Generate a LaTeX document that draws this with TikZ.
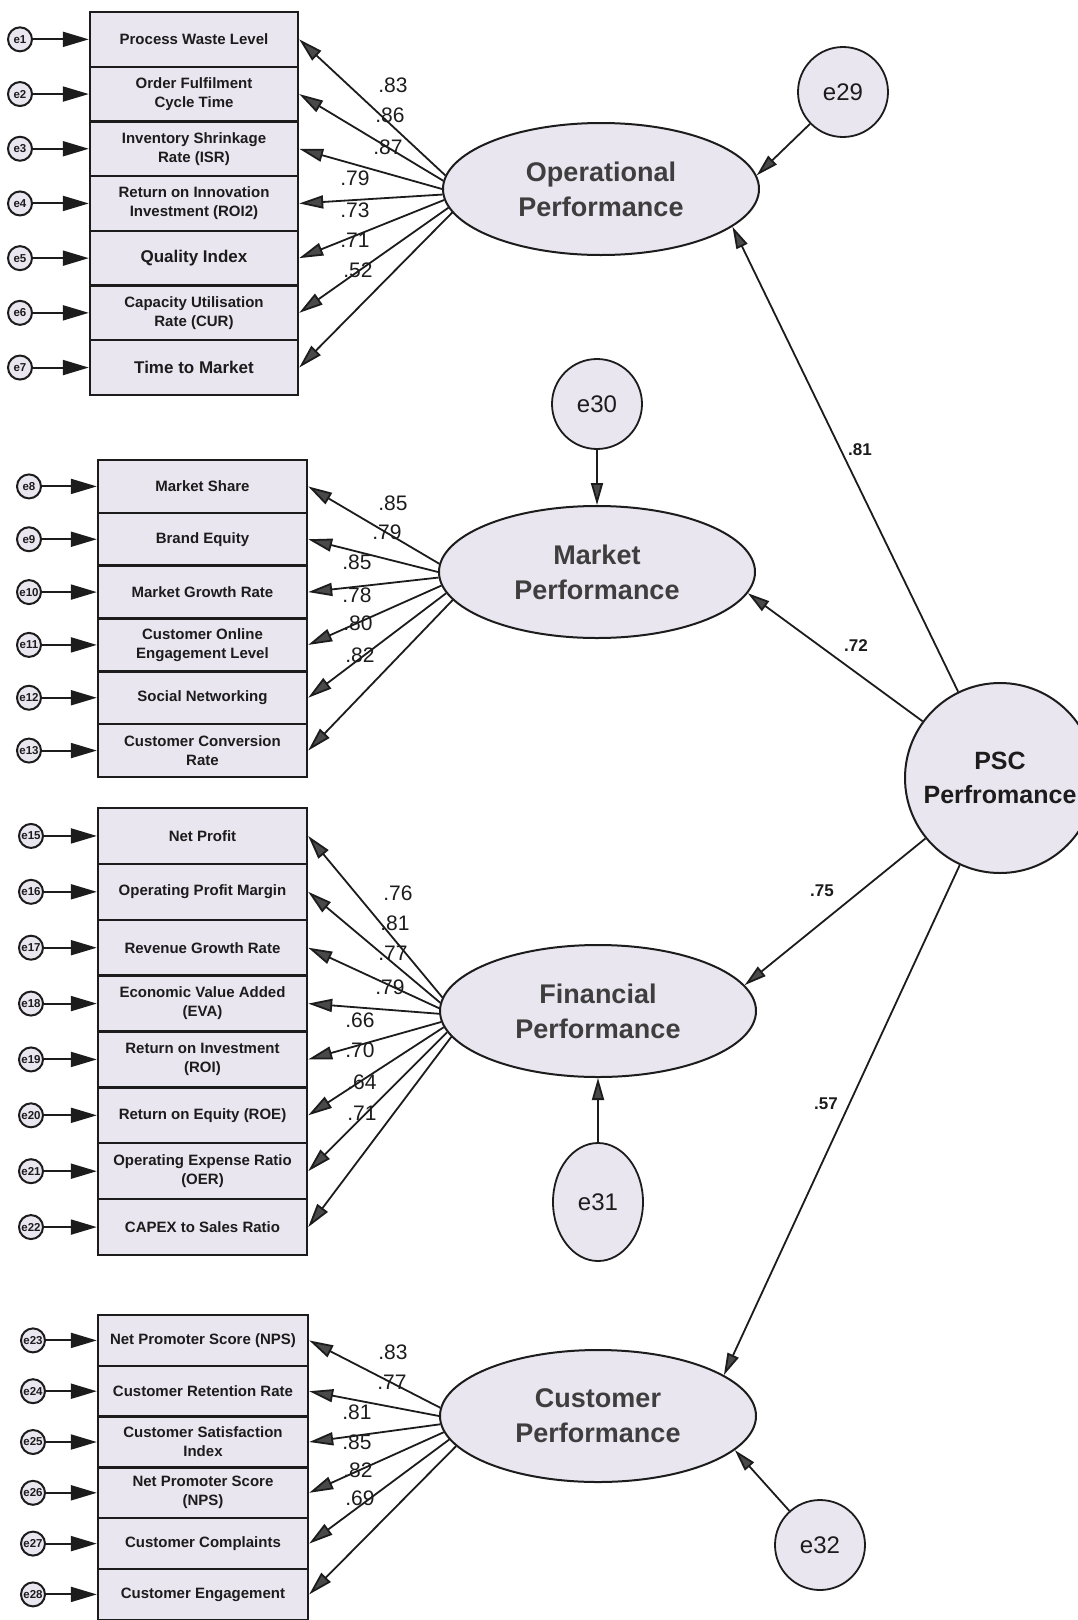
\documentclass[tikz,border=0pt]{standalone}
\usepackage{fontspec}
\setmainfont{Liberation Sans}
\usetikzlibrary{arrows.meta,shapes.geometric,calc}
\definecolor{shapefill}{RGB}{233,230,240}
\definecolor{ink}{RGB}{28,28,28}
\tikzset{
  ind/.style={draw=ink, line width=2.4pt, fill=shapefill, inner sep=1pt, align=center,
    font=\bfseries\fontsize{15}{19}\selectfont, text=ink},
  gone/.style={ind, minimum width=208pt, minimum height=54.7pt},
  gtwo/.style={ind, minimum width=209pt, minimum height=52.83pt},
  gthree/.style={ind, minimum width=209pt, minimum height=55.875pt},
  gfour/.style={ind, minimum width=210pt, minimum height=50.8pt},
  errc/.style={circle, draw=ink, line width=2pt, fill=shapefill, minimum size=24pt,
    inner sep=0pt, font=\bfseries\fontsize{11.5}{11.5}\selectfont, text=ink},
  lat/.style={ellipse, draw=ink, line width=2pt, fill=shapefill, minimum width=316pt,
    minimum height=132pt, inner sep=0pt, align=center,
    font=\bfseries\fontsize{27}{35}\selectfont, text=ink!85},
  bigerr/.style={circle, draw=ink, line width=1.8pt, fill=shapefill, minimum size=90pt,
    inner sep=0pt, font=\fontsize{24}{24}\selectfont, text=ink},
  earrow/.style={draw=ink, line width=2pt, -{Triangle[length=26pt,width=15pt]}},
  larrow/.style={draw=ink, line width=1.8pt, -{Triangle[length=24pt,width=13pt,fill=ink!80]}},
  sarrow/.style={draw=ink, line width=1.8pt, -{Triangle[length=22pt,width=12pt,fill=ink!80]}},
  coef/.style={font=\fontsize{21}{21}\selectfont, text=ink, inner sep=0pt},
  scoef/.style={font=\bfseries\fontsize{17}{17}\selectfont, text=ink, inner sep=0pt},
}
\begin{document}
\begin{tikzpicture}[x=1pt,y=-1pt]
\path[use as bounding box, fill=white] (0,0) rectangle (1078,1620);
\clip (0,0) rectangle (1078,1620);

% ---------- latent variables ----------
\node[lat] (op) at (601,189) {Operational\\Performance};
\node[lat] (mk) at (597,572) {Market\\Performance};
\node[lat] (fin) at (598,1011) {Financial\\Performance};
\node[lat] (cu) at (598,1416) {Customer\\Performance};
\node[circle, draw=ink, line width=2pt, fill=shapefill, minimum size=190pt, inner sep=0pt,
  align=center, font=\bfseries\fontsize{25}{34}\selectfont, text=ink] (psc) at (1000,778) {PSC\\Perfromance};

\node[bigerr] (e29) at (843,92) {e29};
\node[bigerr] (e30) at (597,404) {e30};
\node[ellipse, draw=ink, line width=1.8pt, fill=shapefill, minimum width=90pt, minimum height=118pt,
  inner sep=0pt, font=\fontsize{24}{24}\selectfont, text=ink] (e31) at (598,1202) {e31};
\node[bigerr] (e32) at (820,1545) {e32};

% ---------- group 1 ----------
\foreach \t [count=\k] in {{Process Waste Level},{Order Fulfilment\\Cycle Time},
  {Inventory Shrinkage\\Rate (ISR)},{Return on Innovation\\Investment (ROI2)},
  {\fontsize{17}{20}\selectfont Quality Index},{Capacity Utilisation\\Rate (CUR)},
  {\fontsize{17}{20}\selectfont Time to Market}}{
  \node[gone] (a\k) at (194,{12+54.7*(\k-0.5)}) {\t};
  \node[errc] (ea\k) at (20,{12+54.7*(\k-0.5)}) {e\k};
  \draw[earrow] (ea\k) -- (a\k);
}
% ---------- group 2 ----------
\foreach \t [count=\k] in {{Market Share},{Brand Equity},{Market Growth Rate},
  {Customer Online\\Engagement Level},{Social Networking},{Customer Conversion\\Rate}}{
  \pgfmathtruncatemacro{\j}{\k+7}
  \node[gtwo] (b\k) at (202.5,{460+52.83*(\k-0.5)}) {\t};
  \node[errc] (eb\k) at (29,{460+52.83*(\k-0.5)}) {e\j};
  \draw[earrow] (eb\k) -- (b\k);
}
% ---------- group 3 ----------
\foreach \t [count=\k] in {{Net Profit},{Operating Profit Margin},{Revenue Growth Rate},
  {Economic Value Added\\(EVA)},{Return on Investment\\(ROI)},{Return on Equity (ROE)},
  {Operating Expense Ratio\\(OER)},{CAPEX to Sales Ratio}}{
  \pgfmathtruncatemacro{\j}{\k+14}
  \node[gthree] (c\k) at (202.5,{808+55.875*(\k-0.5)}) {\t};
  \node[errc] (ec\k) at (31,{808+55.875*(\k-0.5)}) {e\j};
  \draw[earrow] (ec\k) -- (c\k);
}
% ---------- group 4 ----------
\foreach \t [count=\k] in {{Net Promoter Score (NPS)},{Customer Retention Rate},
  {Customer Satisfaction\\Index},{Net Promoter Score\\(NPS)},{Customer Complaints},
  {Customer Engagement}}{
  \pgfmathtruncatemacro{\j}{\k+22}
  \node[gfour] (d\k) at (203,{1315+50.8*(\k-0.5)}) {\t};
  \node[errc] (ed\k) at (33,{1315+50.8*(\k-0.5)}) {e\j};
  \draw[earrow] (ed\k) -- (d\k);
}

% ---------- loadings ----------
\foreach \k/\ang in {1/175,2/177,3/180,4/182,5/184,6/187,7/189}
  \draw[larrow] (op.\ang) -- (a\k.east);
\foreach \k/\ang in {1/177,2/180,3/182,4/185,5/188,6/191}
  \draw[larrow] (mk.\ang) -- (b\k.east);
\foreach \k/\ang in {1/175,2/177,3/179,4/181,5/184,6/186,7/188,8/190}
  \draw[larrow] (fin.\ang) -- (c\k.east);
\foreach \k/\ang in {1/177,2/180,3/183,4/186,5/189,6/192}
  \draw[larrow] (cu.\ang) -- (d\k.east);

% ---------- structural paths ----------
\draw[sarrow] (psc) -- (op.344);
\draw[sarrow] (psc) -- (mk.352);
\draw[sarrow] (psc) -- (fin.10);
\draw[sarrow] (psc) -- (cu.18);
\draw[sarrow] (e29) -- (op.5);
\draw[sarrow] (e30) -- (mk);
\draw[sarrow] (e31) -- (fin);
\draw[sarrow] (e32) -- (cu.346);

% ---------- coefficient labels ----------
\foreach \v/\x/\y [count=\k] in {.83/393/85,.86/390/115,.87/388/147,.79/355/178,.73/355/210,.71/355/240,.52/358/270,
  .85/393/503,.79/387/532,.85/357/562,.78/357/595,.80/358/623,.82/360/655,
  .76/398/893,.81/395/923,.77/393/953,.79/390/987,.66/360/1020,.70/360/1050,.64/362/1082,.71/362/1113,
  .83/393/1352,.77/392/1382,.81/357/1412,.85/357/1442,.82/358/1470,.69/360/1498}
  \node[coef] (lab\k) at (\x,\y) {\v};
\node[scoef] (s81) at (860,450) {.81};
\node[scoef] (s72) at (856,646) {.72};
\node[scoef] (s75) at (822,891) {.75};
\node[scoef] (s57) at (826,1104) {.57};
\end{tikzpicture}
\end{document}
